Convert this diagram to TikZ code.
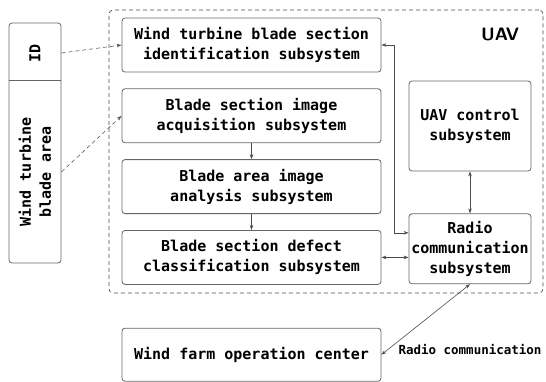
\documentclass[tikz,border=0pt]{standalone}
\usepackage{fontspec}
\setmainfont{Liberation Sans}
\setmonofont{DejaVu Sans Mono}
\usetikzlibrary{arrows.meta, positioning, calc}

\begin{document}
\begin{tikzpicture}[
  x=1pt, y=-1pt,
  node distance=16pt and 28pt,
  box/.style={draw=black!60, rounded corners=3pt, line width=0.8pt,
              align=center, inner sep=2pt,
              font=\ttfamily\bfseries\fontsize{15}{20}\selectfont},
  sub/.style={box, minimum width=259pt, minimum height=54pt},
  side/.style={box, minimum width=122pt},
  tagbox/.style={box, minimum width=52pt, minimum height=240pt},
  taglbl/.style={rotate=90, align=center, inner sep=0pt,
                 font=\ttfamily\bfseries\fontsize{15}{20}\selectfont},
  frame/.style={draw=black!70, dash pattern=on 4pt off 3pt,
                rounded corners=4pt, line width=0.7pt,
                minimum width=434pt, minimum height=283pt},
  arr/.style={-{Stealth[length=5pt, width=3.5pt]}, draw=black!70, line width=0.6pt},
  biarr/.style={{Stealth[length=5pt, width=3.5pt]}-{Stealth[length=5pt, width=3.5pt]},
                draw=black!70, line width=0.6pt},
  link/.style={arr, draw=black!65, dash pattern=on 4pt off 3pt},
  lbl/.style={font=\ttfamily\bfseries\fontsize{12.5}{15}\selectfont, inner sep=1pt},
]
\useasboundingbox (0,0) rectangle (546,381);

% UAV frame
\node[frame] (uav) at (326,151.5) {};
\node[font=\sffamily\bfseries\fontsize{18}{20}\selectfont] (uavlbl) at (500,34) {UAV};

% Left tag: ID / blade area
\node[tagbox] (tag) at (35,143) {};
\draw[draw=black!60, line width=0.8pt]
  ($(tag.north west)+(0,58)$) -- ($(tag.north east)+(0,58)$);
\node[taglbl] (idlbl) at (35,53) {ID};
\node[taglbl] (arealbl) at (35,172) {Wind turbine\\blade area};

% Image pipeline
\node[sub] (ident) at (251.5,45) {Wind turbine blade section\\identification subsystem};
\node[sub, below=of ident] (acq) {Blade section image\\acquisition subsystem};
\node[sub, below=of acq] (anal) {Blade area image\\analysis subsystem};
\node[sub, below=of anal] (cls) {Blade section defect\\classification subsystem};

% Control and radio
\node[side, minimum height=90pt] (ctrl) at (470,126) {UAV control\\subsystem};
\node[side, minimum height=70pt, below=42pt of ctrl] (radio) {Radio\\communication\\subsystem};

% Ground
\node[sub, minimum height=53pt, below=43pt of cls] (farm) {Wind farm operation center};
\node[lbl] (radiolbl) at (470,349) {Radio communication};

\draw[link] (tag.east |- idlbl) -- (ident.west);
\draw[link] (tag.east |- arealbl) -- (acq.west);

\draw[arr] (acq) -- (anal);
\draw[arr] (anal) -- (cls);

\draw[biarr] (ident.east) -- ++(13,0) |- ([yshift=16pt]radio.west);
\draw[biarr] (cls.east) -- (radio.west |- cls.east);
\draw[biarr] (ctrl) -- (radio);
\draw[biarr] (radio.south) -- (farm.east);
\end{tikzpicture}
\end{document}
